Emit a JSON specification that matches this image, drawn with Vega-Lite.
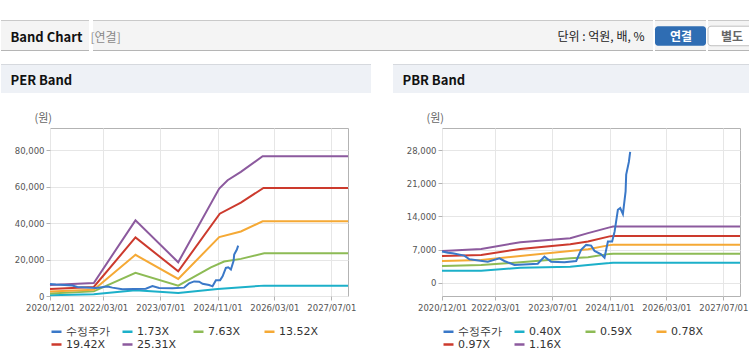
{
  "$schema": "https://vega.github.io/schema/vega-lite/v6.json",
  "padding": {"top": 19, "left": 0, "right": 0, "bottom": 0},
  "background": "#ffffff",
  "config": {
    "font": "DejaVu Sans",
    "view": {"stroke": "#b3b3b3"},
    "axis": {"labelFont": "DejaVu Sans"},
    "legend": {"labelFont": "DejaVu Sans"}
  },
  "datasets": {
    "price": [
      {"d": "2020-12-01", "s": "수정주가", "v": 6600},
      {"d": "2021-01-20", "s": "수정주가", "v": 6350},
      {"d": "2021-03-02", "s": "수정주가", "v": 6230},
      {"d": "2021-06-10", "s": "수정주가", "v": 5730},
      {"d": "2021-07-23", "s": "수정주가", "v": 4960},
      {"d": "2021-12-27", "s": "수정주가", "v": 4450},
      {"d": "2022-04-06", "s": "수정주가", "v": 5170},
      {"d": "2022-05-18", "s": "수정주가", "v": 4600},
      {"d": "2022-08-12", "s": "수정주가", "v": 3750},
      {"d": "2023-02-27", "s": "수정주가", "v": 4030},
      {"d": "2023-04-25", "s": "수정주가", "v": 5510},
      {"d": "2023-06-21", "s": "수정주가", "v": 4450},
      {"d": "2023-10-13", "s": "수정주가", "v": 4320},
      {"d": "2024-01-21", "s": "수정주가", "v": 4600},
      {"d": "2024-03-03", "s": "수정주가", "v": 6940},
      {"d": "2024-04-15", "s": "수정주가", "v": 8000},
      {"d": "2024-05-28", "s": "수정주가", "v": 7850},
      {"d": "2024-06-26", "s": "수정주가", "v": 6720},
      {"d": "2024-08-21", "s": "수정주가", "v": 6020},
      {"d": "2024-09-19", "s": "수정주가", "v": 5300},
      {"d": "2024-10-18", "s": "수정주가", "v": 8700},
      {"d": "2024-11-23", "s": "수정주가", "v": 8700},
      {"d": "2024-12-14", "s": "수정주가", "v": 10800},
      {"d": "2025-01-11", "s": "수정주가", "v": 15420},
      {"d": "2025-01-31", "s": "수정주가", "v": 15780},
      {"d": "2025-02-23", "s": "수정주가", "v": 14500},
      {"d": "2025-03-18", "s": "수정주가", "v": 19300},
      {"d": "2025-03-23", "s": "수정주가", "v": 22840},
      {"d": "2025-04-15", "s": "수정주가", "v": 25540},
      {"d": "2025-04-26", "s": "수정주가", "v": 27660}
    ],
    "perBands": [
      {"d": "2020-12-01", "s": "1.73X", "v": 450},
      {"d": "2021-12-10", "s": "1.73X", "v": 1000},
      {"d": "2022-12-01", "s": "1.73X", "v": 3100},
      {"d": "2023-12-01", "s": "1.73X", "v": 1700},
      {"d": "2024-11-01", "s": "1.73X", "v": 3860},
      {"d": "2025-12-04", "s": "1.73X", "v": 5700},
      {"d": "2027-11-20", "s": "1.73X", "v": 5700},
      {"d": "2020-12-01", "s": "7.63X", "v": 1430},
      {"d": "2021-12-10", "s": "7.63X", "v": 2540},
      {"d": "2022-12-01", "s": "7.63X", "v": 12690},
      {"d": "2023-12-01", "s": "7.63X", "v": 5680},
      {"d": "2024-09-05", "s": "7.63X", "v": 15780},
      {"d": "2024-12-27", "s": "7.63X", "v": 18920},
      {"d": "2025-05-19", "s": "7.63X", "v": 20400},
      {"d": "2025-12-04", "s": "7.63X", "v": 23500},
      {"d": "2027-11-20", "s": "7.63X", "v": 23500},
      {"d": "2020-12-01", "s": "13.52X", "v": 2540},
      {"d": "2021-12-10", "s": "13.52X", "v": 3470},
      {"d": "2022-12-01", "s": "13.52X", "v": 22620},
      {"d": "2023-12-01", "s": "13.52X", "v": 9380},
      {"d": "2024-11-15", "s": "13.52X", "v": 32330},
      {"d": "2025-05-19", "s": "13.52X", "v": 35470},
      {"d": "2025-11-21", "s": "13.52X", "v": 41000},
      {"d": "2027-11-20", "s": "13.52X", "v": 41000},
      {"d": "2020-12-01", "s": "19.42X", "v": 3860},
      {"d": "2021-12-10", "s": "19.42X", "v": 4970},
      {"d": "2022-12-01", "s": "19.42X", "v": 32160},
      {"d": "2023-12-01", "s": "19.42X", "v": 13570},
      {"d": "2024-11-20", "s": "19.42X", "v": 45240},
      {"d": "2025-05-19", "s": "19.42X", "v": 51300},
      {"d": "2025-11-28", "s": "19.42X", "v": 59360},
      {"d": "2027-11-20", "s": "19.42X", "v": 59360},
      {"d": "2020-12-01", "s": "25.31X", "v": 6070},
      {"d": "2021-12-10", "s": "25.31X", "v": 7170},
      {"d": "2022-12-01", "s": "25.31X", "v": 41540},
      {"d": "2023-12-01", "s": "25.31X", "v": 18540},
      {"d": "2024-11-15", "s": "25.31X", "v": 59000},
      {"d": "2025-01-26", "s": "25.31X", "v": 63600},
      {"d": "2025-05-19", "s": "25.31X", "v": 68200},
      {"d": "2025-11-21", "s": "25.31X", "v": 76800},
      {"d": "2027-11-20", "s": "25.31X", "v": 76800}
    ],
    "pbrBands": [
      {"d": "2020-12-01", "s": "0.40X", "v": 2550},
      {"d": "2021-03-01", "s": "0.40X", "v": 2550},
      {"d": "2021-11-01", "s": "0.40X", "v": 2550},
      {"d": "2022-10-01", "s": "0.40X", "v": 3180},
      {"d": "2023-12-01", "s": "0.40X", "v": 3390},
      {"d": "2024-05-01", "s": "0.40X", "v": 3750},
      {"d": "2024-11-01", "s": "0.40X", "v": 4150},
      {"d": "2024-12-01", "s": "0.40X", "v": 4240},
      {"d": "2027-11-20", "s": "0.40X", "v": 4240},
      {"d": "2020-12-01", "s": "0.59X", "v": 3540},
      {"d": "2021-03-01", "s": "0.59X", "v": 3580},
      {"d": "2021-11-01", "s": "0.59X", "v": 3750},
      {"d": "2022-10-01", "s": "0.59X", "v": 4320},
      {"d": "2023-12-01", "s": "0.59X", "v": 5170},
      {"d": "2024-05-01", "s": "0.59X", "v": 5390},
      {"d": "2024-11-01", "s": "0.59X", "v": 6100},
      {"d": "2024-12-01", "s": "0.59X", "v": 6150},
      {"d": "2027-11-20", "s": "0.59X", "v": 6150},
      {"d": "2020-12-01", "s": "0.78X", "v": 4600},
      {"d": "2021-03-01", "s": "0.78X", "v": 4650},
      {"d": "2021-11-01", "s": "0.78X", "v": 4810},
      {"d": "2022-10-01", "s": "0.78X", "v": 5660},
      {"d": "2023-12-01", "s": "0.78X", "v": 6720},
      {"d": "2024-05-01", "s": "0.78X", "v": 7080},
      {"d": "2024-11-01", "s": "0.78X", "v": 7950},
      {"d": "2024-12-01", "s": "0.78X", "v": 8020},
      {"d": "2027-11-20", "s": "0.78X", "v": 8020},
      {"d": "2020-12-01", "s": "0.97X", "v": 5660},
      {"d": "2021-03-01", "s": "0.97X", "v": 5720},
      {"d": "2021-11-01", "s": "0.97X", "v": 5870},
      {"d": "2022-10-01", "s": "0.97X", "v": 7150},
      {"d": "2023-12-01", "s": "0.97X", "v": 8140},
      {"d": "2024-05-01", "s": "0.97X", "v": 8700},
      {"d": "2024-11-01", "s": "0.97X", "v": 9800},
      {"d": "2024-12-01", "s": "0.97X", "v": 9900},
      {"d": "2027-11-20", "s": "0.97X", "v": 9900},
      {"d": "2020-12-01", "s": "1.16X", "v": 6720},
      {"d": "2021-03-01", "s": "1.16X", "v": 6800},
      {"d": "2021-11-01", "s": "1.16X", "v": 7150},
      {"d": "2022-10-01", "s": "1.16X", "v": 8570},
      {"d": "2023-12-01", "s": "1.16X", "v": 9420},
      {"d": "2024-05-01", "s": "1.16X", "v": 10480},
      {"d": "2024-11-01", "s": "1.16X", "v": 11700},
      {"d": "2024-12-01", "s": "1.16X", "v": 11880},
      {"d": "2027-11-20", "s": "1.16X", "v": 11880}
    ]
  },
  "spacing": 11,
  "resolve": {"scale": {"color": "independent"}, "legend": {"color": "independent"}},
  "vconcat": [
    {
      "spacing": 0,
      "hconcat": [
        {
          "width": 39, "height": 31, "view": {"stroke": null},
          "data": {"values": [{}]},
          "layer": [
            {
              "mark": {"type": "rect", "fill": "#f4f4f4"},
              "encoding": {
                "x": {"datum": -1.25641, "type": "quantitative", "scale": {"domain": [0, 1], "nice": false, "zero": false},
                  "axis": {"orient": "top", "domain": false, "ticks": false, "labels": false, "grid": false, "zindex": 1,
                    "title": "Band Chart", "titleX": -40, "titleY": 17, "titleAlign": "left", "titleBaseline": "middle",
                    "titleFont": "Noto Sans CJK KR", "titleFontSize": 13, "titleFontWeight": "bold", "titleColor": "#111111"}},
                "x2": {"datum": 1},
                "y": {"datum": 1, "type": "quantitative", "scale": {"domain": [0, 1], "nice": false, "zero": false}, "axis": null},
                "y2": {"datum": 0}
              }
            },
            {
              "mark": {"type": "rule", "stroke": "#c9c9c9", "strokeWidth": 1},
              "encoding": {"x": {"datum": -1.25641, "type": "quantitative"}, "x2": {"datum": 1}, "y": {"datum": 0.984, "type": "quantitative"}}
            },
            {
              "mark": {"type": "rule", "stroke": "#b5b5b5", "strokeWidth": 1},
              "encoding": {"x": {"datum": -1.25641, "type": "quantitative"}, "x2": {"datum": 1}, "y": {"datum": 0.016, "type": "quantitative"}}
            }
          ]
        },
        {
          "width": 560, "height": 31, "view": {"stroke": null},
          "data": {"values": [{}]},
          "layer": [
            {
              "mark": {"type": "rect", "fill": "#f4f4f4"},
              "encoding": {
                "x": {"datum": 0, "type": "quantitative", "scale": {"domain": [0, 1], "nice": false, "zero": false},
                  "axis": {"orient": "top", "domain": false, "ticks": false, "labels": false, "grid": false, "zindex": 1,
                    "title": "단위 : 억원, 배, %", "titleX": 551, "titleY": 16, "titleAlign": "right", "titleBaseline": "middle",
                    "titleFont": "Noto Sans CJK KR", "titleFontSize": 12, "titleFontWeight": "normal", "titleColor": "#222222"}},
                "x2": {"datum": 1},
                "y": {"datum": 1, "type": "quantitative", "scale": {"domain": [0, 1], "nice": false, "zero": false},
                  "axis": {"orient": "left", "domain": false, "ticks": false, "labels": false, "grid": false, "zindex": 1,
                    "title": "[연결]", "titleX": -3, "titleY": 17, "titleAngle": 0, "titleAlign": "left", "titleBaseline": "middle",
                    "titleFont": "Noto Sans CJK KR", "titleFontSize": 12, "titleFontWeight": "normal", "titleColor": "#8a8a8a"}},
                "y2": {"datum": 0}
              }
            },
            {
              "mark": {"type": "rule", "stroke": "#c9c9c9", "strokeWidth": 1},
              "encoding": {"x": {"datum": 0, "type": "quantitative"}, "x2": {"datum": 1}, "y": {"datum": 0.984, "type": "quantitative"}}
            },
            {
              "mark": {"type": "rule", "stroke": "#b5b5b5", "strokeWidth": 1},
              "encoding": {"x": {"datum": 0, "type": "quantitative"}, "x2": {"datum": 1}, "y": {"datum": 0.016, "type": "quantitative"}}
            }
          ]
        },
        {
          "width": 51, "height": 31, "view": {"stroke": null},
          "data": {"values": [{}]},
          "layer": [
            {
              "mark": {"type": "rect", "fill": "#f4f4f4"},
              "encoding": {
                "x": {"datum": 0, "type": "quantitative", "scale": {"domain": [0, 1], "nice": false, "zero": false},
                  "axis": {"orient": "top", "domain": false, "ticks": false, "labels": false, "grid": false, "zindex": 1,
                    "title": "연결", "titleX": 25.5, "titleY": 16.5, "titleAlign": "center", "titleBaseline": "middle",
                    "titleFont": "Noto Sans CJK KR", "titleFontSize": 12, "titleFontWeight": "bold", "titleColor": "#ffffff"}},
                "x2": {"datum": 1},
                "y": {"datum": 1, "type": "quantitative", "scale": {"domain": [0, 1], "nice": false, "zero": false}, "axis": null},
                "y2": {"datum": 0}
              }
            },
            {
              "mark": {"type": "rule", "stroke": "#c9c9c9", "strokeWidth": 1},
              "encoding": {"x": {"datum": 0, "type": "quantitative"}, "x2": {"datum": 1}, "y": {"datum": 0.984, "type": "quantitative"}}
            },
            {
              "mark": {"type": "rule", "stroke": "#b5b5b5", "strokeWidth": 1},
              "encoding": {"x": {"datum": 0, "type": "quantitative"}, "x2": {"datum": 1}, "y": {"datum": 0.016, "type": "quantitative"}}
            },
            {
              "mark": {"type": "rect", "fill": "#2f6db3", "cornerRadius": 3},
              "encoding": {
                "x": {"datum": 0, "type": "quantitative"},
                "x2": {"datum": 1},
                "y": {"datum": 0.8, "type": "quantitative"},
                "y2": {"datum": 0.17}
              }
            }
          ]
        },
        {
          "width": 50, "height": 31, "view": {"stroke": null},
          "data": {"values": [{}]},
          "layer": [
            {
              "mark": {"type": "rect", "fill": "#f4f4f4"},
              "encoding": {
                "x": {"datum": 0, "type": "quantitative", "scale": {"domain": [0, 1], "nice": false, "zero": false},
                  "axis": {"orient": "top", "domain": false, "ticks": false, "labels": false, "grid": false, "zindex": 1,
                    "title": "별도", "titleX": 23.5, "titleY": 16.5, "titleAlign": "center", "titleBaseline": "middle",
                    "titleFont": "Noto Sans CJK KR", "titleFontSize": 12, "titleFontWeight": "bold", "titleColor": "#666666"}},
                "x2": {"datum": 1},
                "y": {"datum": 1, "type": "quantitative", "scale": {"domain": [0, 1], "nice": false, "zero": false}, "axis": null},
                "y2": {"datum": 0}
              }
            },
            {
              "mark": {"type": "rule", "stroke": "#c9c9c9", "strokeWidth": 1},
              "encoding": {"x": {"datum": 0, "type": "quantitative"}, "x2": {"datum": 1}, "y": {"datum": 0.984, "type": "quantitative"}}
            },
            {
              "mark": {"type": "rule", "stroke": "#b5b5b5", "strokeWidth": 1},
              "encoding": {"x": {"datum": 0, "type": "quantitative"}, "x2": {"datum": 1}, "y": {"datum": 0.016, "type": "quantitative"}}
            },
            {
              "mark": {"type": "rect", "fill": "#ffffff", "stroke": "#c0c0c0", "strokeWidth": 1, "cornerRadius": 3},
              "encoding": {
                "x": {"datum": 0, "type": "quantitative"},
                "x2": {"datum": 0.94},
                "y": {"datum": 0.8, "type": "quantitative"},
                "y2": {"datum": 0.17}
              }
            }
          ]
        }
      ]
    },
    {
      "spacing": 20,
      "resolve": {"scale": {"color": "independent"}, "legend": {"color": "independent"}},
      "hconcat": [
        {
          "spacing": 18,
          "resolve": {"scale": {"color": "independent"}, "legend": {"color": "independent"}},
          "vconcat": [
            {
              "width": 321, "height": 29, "view": {"stroke": null},
              "data": {"values": [{}]},
              "layer": [
                {
                  "mark": {"type": "rect", "fill": "#eef1f6"},
                  "encoding": {
                    "x": {"datum": -0.15265, "type": "quantitative", "scale": {"domain": [0, 1], "nice": false, "zero": false},
                      "axis": {"orient": "top", "domain": false, "ticks": false, "labels": false, "grid": false, "zindex": 1,
                        "title": "PER Band", "titleX": -40, "titleY": 16, "titleAlign": "left", "titleBaseline": "middle",
                        "titleFont": "Noto Sans CJK KR", "titleFontSize": 13, "titleFontWeight": "bold", "titleColor": "#111111"}},
                    "x2": {"datum": 1},
                    "y": {"datum": 1, "type": "quantitative", "scale": {"domain": [0, 1], "nice": false, "zero": false}, "axis": null},
                    "y2": {"datum": 0}
                  }
                },
                {
                  "mark": {"type": "rule", "stroke": "#d6d9de", "strokeWidth": 1},
                  "encoding": {"x": {"datum": -0.15265, "type": "quantitative"}, "x2": {"datum": 1}, "y": {"datum": 0.983, "type": "quantitative"}}
                }
              ]
            },
            {
              "width": 298, "height": 168,
              "encoding": {
                "x": {"field": "d", "type": "temporal",
                  "scale": {"type": "utc", "domain": [{"year": 2020, "month": 12, "date": 1, "utc": true}, {"year": 2027, "month": 11, "date": 20, "utc": true}]},
                  "axis": {"title": null, "format": "%Y/%m/%d", "labelFontSize": 8.5, "labelColor": "#555555", "labelFlush": false, "labelOverlap": false,
                    "labelPadding": 3, "tickSize": 4, "tickColor": "#b3b3b3", "domain": false, "grid": true, "gridColor": "#e6e6e6",
                    "values": [{"year": 2020, "month": 12, "date": 1, "utc": true}, {"year": 2022, "month": 3, "date": 1, "utc": true}, {"year": 2023, "month": 7, "date": 1, "utc": true}, {"year": 2024, "month": 11, "date": 1, "utc": true}, {"year": 2026, "month": 3, "date": 1, "utc": true}, {"year": 2027, "month": 7, "date": 1, "utc": true}]}},
                "y": {"field": "v", "type": "quantitative",
                  "scale": {"domain": [0, 92300], "nice": false, "zero": false},
                  "axis": {"values": [0, 20000, 40000, 60000, 80000], "format": ",d", "labelFontSize": 8.5, "labelColor": "#555555",
                    "labelPadding": 2, "tickSize": 4, "tickColor": "#b3b3b3", "domain": false, "grid": true, "gridColor": "#e6e6e6",
                    "title": "(원)", "titleAngle": 0, "titleX": -16, "titleY": -7, "titleAlign": "left", "titleBaseline": "alphabetic",
                    "titleFont": "Noto Sans CJK KR", "titleFontSize": 11, "titleFontWeight": "normal", "titleColor": "#666666"}},
                "color": {"field": "s", "type": "nominal",
                  "scale": {"domain": ["수정주가", "1.73X", "7.63X", "13.52X", "19.42X", "25.31X"], "range": ["#3a78c8", "#1cb0c9", "#8dbb55", "#f5a935", "#cc3a2d", "#8c5a9e"]},
                  "legend": {"title": null, "orient": "none", "legendX": 0, "legendY": 197, "direction": "horizontal", "columns": 4, "gridAlign": "all",
                    "columnPadding": 7, "rowPadding": 1, "symbolType": "stroke", "symbolSize": 100, "symbolStrokeWidth": 2.5,
                    "labelFontSize": 11, "labelColor": "#333333", "labelOffset": 3}}
              },
              "layer": [
                {"data": {"name": "perBands"}, "mark": {"type": "line", "strokeWidth": 2}},
                {"data": {"name": "price"}, "mark": {"type": "line", "strokeWidth": 2}}
              ]
            }
          ]
        },
        {
          "spacing": 18,
          "resolve": {"scale": {"color": "independent"}, "legend": {"color": "independent"}},
          "vconcat": [
            {
              "width": 310, "height": 29, "view": {"stroke": null},
              "data": {"values": [{}]},
              "layer": [
                {
                  "mark": {"type": "rect", "fill": "#eef1f6"},
                  "encoding": {
                    "x": {"datum": -0.15806, "type": "quantitative", "scale": {"domain": [0, 1], "nice": false, "zero": false},
                      "axis": {"orient": "top", "domain": false, "ticks": false, "labels": false, "grid": false, "zindex": 1,
                        "title": "PBR Band", "titleX": -40, "titleY": 16, "titleAlign": "left", "titleBaseline": "middle",
                        "titleFont": "Noto Sans CJK KR", "titleFontSize": 13, "titleFontWeight": "bold", "titleColor": "#111111"}},
                    "x2": {"datum": 1},
                    "y": {"datum": 1, "type": "quantitative", "scale": {"domain": [0, 1], "nice": false, "zero": false}, "axis": null},
                    "y2": {"datum": 0}
                  }
                },
                {
                  "mark": {"type": "rule", "stroke": "#d6d9de", "strokeWidth": 1},
                  "encoding": {"x": {"datum": -0.15806, "type": "quantitative"}, "x2": {"datum": 1}, "y": {"datum": 0.983, "type": "quantitative"}}
                }
              ]
            },
            {
              "width": 298, "height": 168,
              "encoding": {
                "x": {"field": "d", "type": "temporal",
                  "scale": {"type": "utc", "domain": [{"year": 2020, "month": 12, "date": 1, "utc": true}, {"year": 2027, "month": 11, "date": 20, "utc": true}]},
                  "axis": {"title": null, "format": "%Y/%m/%d", "labelFontSize": 8.5, "labelColor": "#555555", "labelFlush": false, "labelOverlap": false,
                    "labelPadding": 3, "tickSize": 4, "tickColor": "#b3b3b3", "domain": false, "grid": true, "gridColor": "#e6e6e6",
                    "values": [{"year": 2020, "month": 12, "date": 1, "utc": true}, {"year": 2022, "month": 3, "date": 1, "utc": true}, {"year": 2023, "month": 7, "date": 1, "utc": true}, {"year": 2024, "month": 11, "date": 1, "utc": true}, {"year": 2026, "month": 3, "date": 1, "utc": true}, {"year": 2027, "month": 7, "date": 1, "utc": true}]}},
                "y": {"field": "v", "type": "quantitative",
                  "scale": {"domain": [-2800, 32700], "nice": false, "zero": false},
                  "axis": {"values": [0, 7000, 14000, 21000, 28000], "format": ",d", "labelFontSize": 8.5, "labelColor": "#555555",
                    "labelPadding": 2, "tickSize": 4, "tickColor": "#b3b3b3", "domain": false, "grid": true, "gridColor": "#e6e6e6",
                    "title": "(원)", "titleAngle": 0, "titleX": -16, "titleY": -7, "titleAlign": "left", "titleBaseline": "alphabetic",
                    "titleFont": "Noto Sans CJK KR", "titleFontSize": 11, "titleFontWeight": "normal", "titleColor": "#666666"}},
                "color": {"field": "s", "type": "nominal",
                  "scale": {"domain": ["수정주가", "0.40X", "0.59X", "0.78X", "0.97X", "1.16X"], "range": ["#3a78c8", "#1cb0c9", "#8dbb55", "#f5a935", "#cc3a2d", "#8c5a9e"]},
                  "legend": {"title": null, "orient": "none", "legendX": 0, "legendY": 197, "direction": "horizontal", "columns": 4, "gridAlign": "all",
                    "columnPadding": 7, "rowPadding": 1, "symbolType": "stroke", "symbolSize": 100, "symbolStrokeWidth": 2.5,
                    "labelFontSize": 11, "labelColor": "#333333", "labelOffset": 3}}
              },
              "layer": [
                {"data": {"name": "pbrBands"}, "mark": {"type": "line", "strokeWidth": 2}},
                {"data": {"name": "price"}, "mark": {"type": "line", "strokeWidth": 2}}
              ]
            }
          ]
        }
      ]
    }
  ]
}
